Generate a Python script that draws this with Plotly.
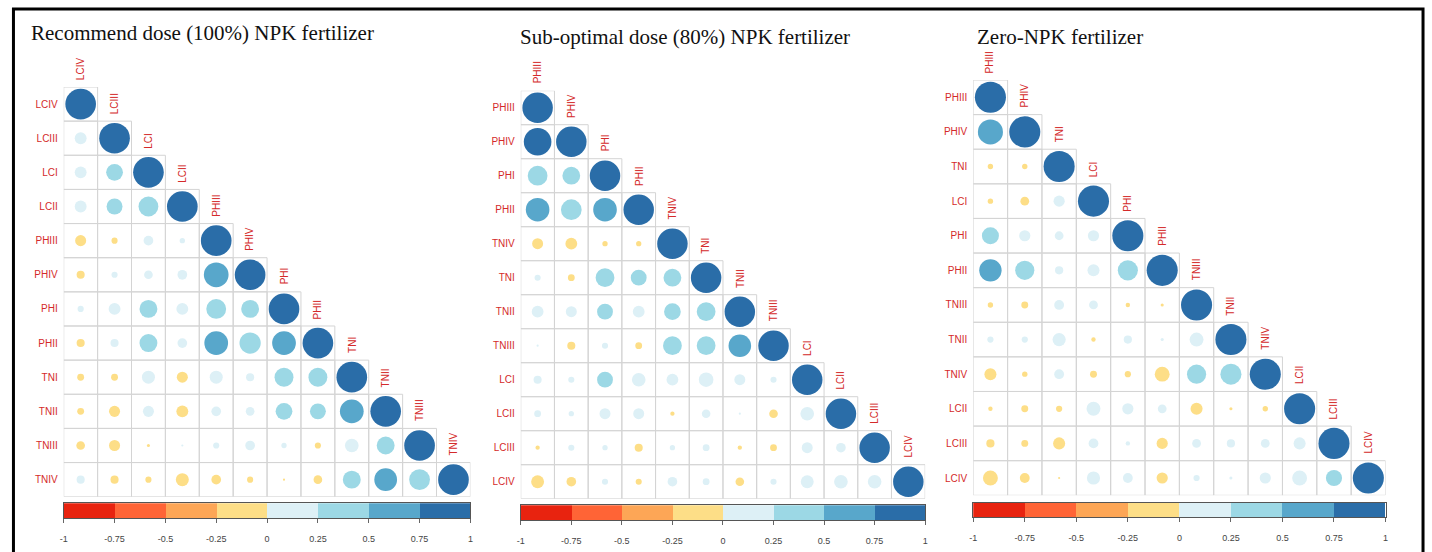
import plotly.graph_objects as go

W, H = 1432, 552

# ---------------- data ----------------
labels_100 = ["LCIV", "LCIII", "LCI", "LCII", "PHIII", "PHIV", "PHI", "PHII", "TNI", "TNII", "TNIII", "TNIV"]
corr_100 = [
    [1],
    [0.15, 1],
    [0.15, 0.30, 1],
    [0.15, 0.27, 0.42, 1],
    [-0.13, -0.04, 0.10, 0.03, 1],
    [-0.07, 0.04, 0.08, 0.10, 0.65, 1],
    [0.04, 0.15, 0.34, 0.15, 0.42, 0.34, 1],
    [-0.07, 0.07, 0.34, 0.10, 0.60, 0.48, 0.60, 1],
    [-0.05, -0.05, 0.18, -0.13, 0.18, 0.07, 0.38, 0.38, 1],
    [-0.05, -0.13, 0.13, -0.15, 0.10, 0.08, 0.30, 0.27, 0.60, 1],
    [-0.08, -0.13, -0.01, 0.005, 0.04, 0.10, 0.03, -0.04, 0.20, 0.34, 1],
    [0.07, -0.07, -0.04, -0.18, -0.10, -0.04, -0.005, -0.08, 0.34, 0.55, 0.46, 1],
]

labels_80 = ["PHIII", "PHIV", "PHI", "PHII", "TNIV", "TNI", "TNII", "TNIII", "LCI", "LCII", "LCIII", "LCIV"]
corr_80 = [
    [1],
    [0.82, 1],
    [0.42, 0.34, 1],
    [0.60, 0.46, 0.60, 1],
    [-0.13, -0.15, -0.03, -0.03, 1],
    [0.04, -0.05, 0.38, 0.27, 0.34, 1],
    [0.15, 0.13, 0.27, 0.15, 0.30, 0.38, 1],
    [0.005, -0.07, 0.04, -0.05, 0.38, 0.38, 0.55, 1],
    [0.07, 0.04, 0.27, 0.20, 0.15, 0.23, 0.13, 0.04, 1],
    [0.05, 0.03, 0.13, 0.13, -0.02, 0.08, 0.005, -0.08, 0.20, 1],
    [-0.02, 0.04, 0.03, -0.07, 0.03, 0.05, -0.02, -0.05, 0.13, 0.10, 1],
    [-0.18, -0.10, 0.04, -0.04, 0.10, 0.05, -0.08, 0.04, 0.18, 0.20, 0.20, 1],
]

labels_0 = ["PHIII", "PHIV", "TNI", "LCI", "PHI", "PHII", "TNIII", "TNII", "TNIV", "LCII", "LCIII", "LCIV"]
corr_0 = [
    [1],
    [0.65, 1],
    [-0.03, -0.03, 1],
    [-0.03, -0.08, 0.13, 1],
    [0.30, 0.13, 0.08, 0.13, 1],
    [0.52, 0.38, 0.07, 0.15, 0.42, 1],
    [-0.03, -0.05, 0.10, 0.08, -0.02, -0.01, 1],
    [0.04, 0.04, 0.18, -0.02, 0.07, 0.01, 0.20, 1],
    [-0.15, -0.03, 0.10, -0.05, -0.04, -0.23, 0.38, 0.46, 1],
    [-0.02, -0.05, -0.04, 0.20, 0.13, 0.08, -0.15, -0.01, -0.03, 1],
    [-0.07, -0.05, -0.15, 0.10, 0.02, -0.13, 0.08, 0.07, 0.08, 0.15, 1],
    [-0.23, -0.10, -0.005, 0.18, 0.10, -0.13, 0.04, 0.01, 0.13, 0.23, 0.27, 1],
]

titles = ["Recommend dose (100%) NPK fertilizer",
          "Sub-optimal dose (80%) NPK fertilizer",
          "Zero-NPK fertilizer"]

bin_edges = [-1, -0.75, -0.5, -0.25, 0, 0.25, 0.5, 0.75, 1]
bin_colors = ["#E8230F", "#FF6436", "#FDA656", "#FDDE87",
              "#DDF0F6", "#9CD8E5", "#58A7CB", "#2A6DA8"]
tick_text = ["-1", "-0.75", "-0.5", "-0.25", "0", "0.25", "0.5", "0.75", "1"]

# ---------------- layout geometry (pixels) ----------------
panels = [
    dict(labels=labels_100, corr=corr_100, title=titles[0],
         grid=(60, 468.7, 87, 496.7), cbar=(60, 468.7, 503.3, 518.3), tpos=(25, 33)),
    dict(labels=labels_80, corr=corr_80, title=titles[1],
         grid=(519.3, 925.7, 90.7, 498.7), cbar=(519.3, 925.7, 505.3, 520), tpos=(517, 36.5)),
    dict(labels=labels_0, corr=corr_0, title=titles[2],
         grid=(974, 1388.3, 80, 495.3), cbar=(974, 1388.3, 502.7, 517.3), tpos=(976, 36.5)),
]

LABEL_RED = "#D42A2A"


def px_x(x):
    return x / W


def px_y(y):
    return 1 - y / H


def color_of(v):
    idx = int((v + 1) / 0.25)
    return bin_colors[max(0, min(idx, 7))]


fig = go.Figure()
shapes = []
annotations = []
layout_axes = {}

for k, p in enumerate(panels):
    n = len(p["labels"])
    mi = 2 * k + 1
    ci = 2 * k + 2
    mx, my = ("x", "y") if mi == 1 else (f"x{mi}", f"y{mi}")
    cx, cy = f"x{ci}", f"y{ci}"
    gx0, gx1, gy0, gy1 = p["grid"]
    cell_px = (gx1 - gx0) / n

    xs, ys, sizes, cols, texts = [], [], [], [], []
    for i, row in enumerate(p["corr"]):
        for j, v in enumerate(row):
            xs.append(j + 1)
            ys.append(i + 1)
            sizes.append(0.9 * cell_px * abs(v) ** 0.5)
            cols.append(color_of(v))
            texts.append(f"{p['labels'][i]} / {p['labels'][j]}: {v}")
            shapes.append(dict(type="rect", xref=mx, yref=my,
                               x0=j + 0.5, x1=j + 1.5, y0=i + 0.5, y1=i + 1.5,
                               line=dict(color="#D4D4D4", width=1), layer="below"))
    fig.add_trace(go.Scatter(x=xs, y=ys, mode="markers", xaxis=mx, yaxis=my,
                             marker=dict(size=sizes, color=cols, opacity=1, line=dict(width=0)),
                             text=texts, hoverinfo="text", showlegend=False))

    for j, lab in enumerate(p["labels"]):
        annotations.append(dict(x=j + 1, y=j + 0.5, xref=mx, yref=my, text=lab,
                                textangle=-90, showarrow=False, xanchor="center",
                                yanchor="bottom", yshift=5,
                                font=dict(family="Arial, Liberation Sans", size=10, color=LABEL_RED)))

    mxk = "xaxis" if mi == 1 else f"xaxis{mi}"
    myk = "yaxis" if mi == 1 else f"yaxis{mi}"
    layout_axes[mxk] = dict(domain=[px_x(gx0), px_x(gx1)], range=[0.5, n + 0.5],
                            showgrid=False, zeroline=False, showticklabels=False,
                            ticks="", anchor=my, fixedrange=True)
    layout_axes[myk] = dict(domain=[px_y(gy1), px_y(gy0)], range=[n + 0.5, 0.5],
                            showgrid=False, zeroline=False, ticks="",
                            tickvals=list(range(1, n + 1)), ticktext=p["labels"],
                            tickfont=dict(family="Arial, Liberation Sans", size=10, color=LABEL_RED),
                            ticklabelstandoff=5, anchor=mx, fixedrange=True)

    # colour bar
    cx0, cx1, cy0, cy1 = p["cbar"]
    centers = [(bin_edges[b] + bin_edges[b + 1]) / 2 for b in range(8)]
    fig.add_trace(go.Bar(x=centers, y=[1] * 8, width=[0.25] * 8, xaxis=cx, yaxis=cy,
                         marker=dict(color=bin_colors, line=dict(width=0)),
                         hoverinfo="skip", showlegend=False))
    layout_axes[f"xaxis{ci}"] = dict(domain=[px_x(cx0), px_x(cx1)], range=[-1, 1],
                                     tickvals=bin_edges, ticktext=tick_text,
                                     ticks="outside", ticklen=4, tickcolor="#666",
                                     tickfont=dict(family="Arial, Liberation Sans", size=9, color="#444"),
                                     ticklabelstandoff=8,
                                     showline=True, mirror=True, linecolor="#555", linewidth=1,
                                     showgrid=False, zeroline=False, anchor=cy, fixedrange=True)
    layout_axes[f"yaxis{ci}"] = dict(domain=[px_y(cy1), px_y(cy0)], range=[0, 1],
                                     showticklabels=False, ticks="",
                                     showline=True, mirror=True, linecolor="#555", linewidth=1,
                                     showgrid=False, zeroline=False, anchor=cx, fixedrange=True)

    tx, ty = p["tpos"]
    annotations.append(dict(x=px_x(tx), y=px_y(ty), xref="paper", yref="paper",
                            text=p["title"], showarrow=False, xanchor="left", yanchor="middle",
                            font=dict(family="Liberation Serif, Times New Roman, serif", size=21, color="#111")))

# outer frame
shapes.append(dict(type="rect", xref="paper", yref="paper",
                   x0=px_x(9.5), x1=px_x(1426), y0=px_y(560), y1=px_y(9),
                   line=dict(color="#000", width=3)))

fig.update_layout(width=W, height=H, autosize=False,
                  margin=dict(l=0, r=0, t=0, b=0),
                  paper_bgcolor="white", plot_bgcolor="rgba(0,0,0,0)",
                  bargap=0, shapes=shapes, annotations=annotations, **layout_axes)

fig.write_html("out.html", config={"displayModeBar": False},
               post_script="document.body.style.margin='0';document.body.style.overflow='hidden';")
